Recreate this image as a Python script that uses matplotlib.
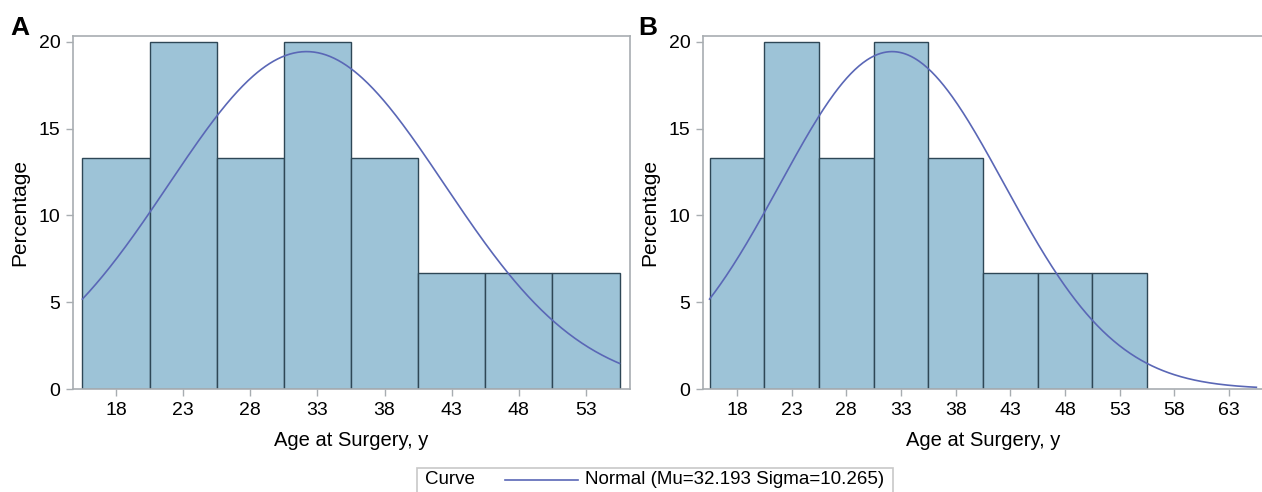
import numpy as np
from matplotlib import pyplot as plt
from matplotlib.lines import Line2D
from matplotlib.patches import Rectangle

plt.rcParams['font.family'] = ['Liberation Sans', 'DejaVu Sans']

# Данные гистограммы (процент пациентов на бин)
bin_edges = [15.5, 20.5, 25.5, 30.5, 35.5, 40.5, 45.5, 50.5, 55.5]
percents = [13.333, 20.0, 13.333, 20.0, 13.333, 6.667, 6.667, 6.667]
mu = 32.193
sigma = 10.265
ticks_a = [18, 23, 28, 33, 38, 43, 48, 53]
ticks_b = [18, 23, 28, 33, 38, 43, 48, 53, 58, 63]
curve_end_a = 55.5
curve_end_b = 65.5

bar_color = '#9dc3d7'
edge_color = '#2e4756'
curve_color = '#5a67b6'
frame_color = '#a8adb1'


def draw_panel(ax, xlim, ticks, curve_end):
    widths = np.diff(bin_edges)
    ax.bar(bin_edges[:-1], percents, width=widths, align='edge',
           color=bar_color, edgecolor=edge_color, linewidth=1.0, zorder=2)
    x = np.linspace(bin_edges[0], curve_end, 400)
    y = 100 * widths[0] * np.exp(-0.5 * ((x - mu) / sigma) ** 2) / (sigma * np.sqrt(2 * np.pi))
    ax.plot(x, y, color=curve_color, linewidth=1.2, zorder=3)
    ax.set_xlim(*xlim)
    ax.set_ylim(0, 20.33)
    ax.set_xticks(ticks)
    ax.set_yticks([0, 5, 10, 15, 20])
    ax.tick_params(labelsize=14, colors=frame_color, labelcolor='black',
                   length=5, width=1, pad=4)
    for s in ax.spines.values():
        s.set_color(frame_color)
        s.set_linewidth(1.2)
    ax.set_xlabel('Age at Surgery, y', fontsize=14.5, labelpad=9)
    ax.set_ylabel('Percentage', fontsize=15, labelpad=7)


fig = plt.figure(figsize=(12.62, 4.92), dpi=100)
ax_a = fig.add_axes([73 / 1262, 0.2093, 557 / 1262, 0.7175])
ax_b = fig.add_axes([703 / 1262, 0.2093, 561 / 1262, 0.7175])
draw_panel(ax_a, (14.8, 56.28), ticks_a, curve_end_a)
draw_panel(ax_b, (14.9, 66.2), ticks_b, curve_end_b)

fig.text(10 / 1262, 0.929, 'A', fontsize=19, fontweight='bold', va='baseline')
fig.text(638 / 1262, 0.929, 'B', fontsize=19, fontweight='bold', va='baseline')

# Легенда внизу (рамка, подпись, линия)
W, H = 1262, 492
fig.patches.append(Rectangle((417 / W, -0.01), 476 / W, 24 / H + 0.01,
                             transform=fig.transFigure, facecolor='white',
                             edgecolor='#c8c8c8', linewidth=1.2))
ty = 12 / H
fig.text(425 / W, ty, 'Curve', fontsize=13.5, va='center', ha='left')
fig.lines.append(Line2D([505 / W, 578 / W], [ty, ty], transform=fig.transFigure,
                        color=curve_color, linewidth=1.2))
fig.text(585 / W, ty, 'Normal (Mu=32.193 Sigma=10.265)', fontsize=13.5,
         va='center', ha='left')

fig.savefig('out.png', dpi=100)
